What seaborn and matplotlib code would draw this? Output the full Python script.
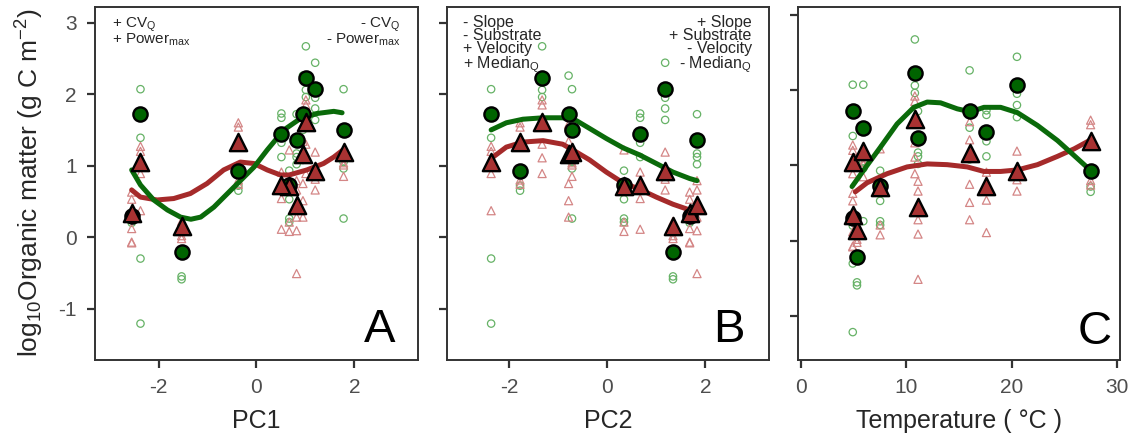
import numpy as np
import pandas as pd
import matplotlib
matplotlib.use("Agg")
import matplotlib.pyplot as plt
import seaborn as sns

sns.set_style("white")
plt.rcParams["font.family"] = ["Liberation Sans", "DejaVu Sans"]
plt.rcParams["mathtext.default"] = "regular"
plt.rcParams["axes.unicode_minus"] = False

# ---------------- data (one entry per site) ----------------
pc1 = [-2.37, 0.95, -0.37, 1.01, 1.78, 0.67, 0.51, 1.20, -1.53, -2.55, 0.82]
pc2 = [-2.37, -0.79, -1.78, -1.33, -0.72, 0.34, 0.67, 1.18, 1.34, 1.68, 1.83]
temperature = [4.9, 16.0, 27.5, 10.8, 5.9, 7.5, 17.6, 20.5, 5.3, 4.9, 11.1]
green_mean = [1.72, 1.72, 0.93, 2.22, 1.50, 0.73, 1.44, 2.07, -0.21, 0.30, 1.36]
red_mean = [1.05, 1.16, 1.33, 1.61, 1.19, 0.71, 0.73, 0.93, 0.15, 0.34, 0.45]

green_reps = [
    [2.07, 1.39, -0.30, -1.21],
    [2.26, 1.50, 1.08],
    [1.26, 0.72, 0.65],
    [2.67, 2.06, 1.96],
    [2.07, 1.05, 0.96, 0.26],
    [0.93, 0.53, 0.26, 0.21],
    [1.73, 1.67, 1.32, 1.12],
    [2.44, 1.95, 1.80, 1.64],
    [-0.55, -0.59],
    [0.26, 0.20],
    [1.72, 1.17, 1.12, 1.02],
]
red_reps = [
    [1.27, 1.20, 0.89, 0.37],
    [1.58, 1.34, 0.75, 0.51, 0.28],
    [1.60, 1.54, 0.80, 0.74],
    [1.92, 1.85, 1.30, 1.11, 0.89],
    [1.04, 1.01, 0.85],
    [1.22, 0.21, 0.08],
    [0.91, 0.54, 0.11],
    [1.19, 0.81, 0.66],
    [0.22, 0.08, 0.02, -0.02],
    [0.63, 0.53, 0.12, -0.07, -0.08],
    [0.79, 0.66, 0.28, 0.09, -0.51],
]

# smoothed curves
curveA_x_green = [-2.55, -2.37, -2.10, -1.82, -1.55, -1.34, -1.14, -0.87, -0.46, -0.05, 0.22, 0.56, 0.90, 1.24, 1.58, 1.75]
curveA_y_green = [0.94, 0.73, 0.52, 0.38, 0.28, 0.25, 0.28, 0.42, 0.70, 0.98, 1.22, 1.50, 1.66, 1.73, 1.76, 1.74]
curveA_x_red = [-2.55, -2.37, -2.03, -1.69, -1.35, -1.01, -0.67, -0.33, -0.05, 0.22, 0.49, 0.67, 1.03, 1.37, 1.58, 1.75]
curveA_y_red = [0.66, 0.56, 0.52, 0.54, 0.61, 0.75, 0.94, 1.05, 1.03, 0.94, 0.87, 0.87, 0.94, 1.03, 1.12, 1.21]

curveB_x = [-2.37, -2.06, -1.72, -1.31, -0.91, -0.63, -0.36, -0.02, 0.32, 0.66, 1.00, 1.34, 1.68, 1.83]
curveB_y_green = [1.50, 1.60, 1.65, 1.67, 1.67, 1.63, 1.52, 1.38, 1.25, 1.15, 1.03, 0.91, 0.82, 0.79]
curveB_y_red = [1.10, 1.26, 1.33, 1.35, 1.30, 1.19, 1.08, 0.91, 0.76, 0.67, 0.56, 0.46, 0.38, 0.35]

curveC_x_green = [4.83, 6.26, 7.52, 9.11, 10.70, 11.97, 13.24, 14.83, 16.10, 17.36, 18.95, 20.54, 22.45, 24.35, 25.94, 27.52]
curveC_y_green = [0.72, 1.00, 1.24, 1.55, 1.77, 1.84, 1.83, 1.75, 1.71, 1.77, 1.77, 1.70, 1.53, 1.33, 1.13, 0.93]
curveC_x_red = [5.14, 6.26, 8.16, 10.06, 11.97, 13.87, 15.78, 17.36, 18.95, 20.54, 22.45, 24.35, 25.94, 27.52]
curveC_y_red = [0.65, 0.77, 0.89, 0.98, 1.02, 1.01, 0.98, 0.92, 0.92, 0.94, 1.01, 1.12, 1.22, 1.34]

xtick_pc = [-2, 0, 2]
xtick_temp = [0, 10, 20, 30]
ytick_vals = [-1, 0, 1, 2, 3]

annot_A_left = ["+ CV$_Q$", "+ Power$_{max}$"]
annot_A_right = ["- CV$_Q$", "- Power$_{max}$"]
annot_B_left = ["- Slope", "- Substrate", "+ Velocity", "+ Median$_Q$"]
annot_B_right = ["+ Slope", "+ Substrate", "- Velocity", "- Median$_Q$"]

# ---------------- tables ----------------
means = pd.DataFrame({"PC1": pc1, "PC2": pc2, "Temp": temperature,
                      "green": green_mean, "red": red_mean})
rows_g, rows_r = [], []
for i in range(len(pc1)):
    for v in green_reps[i]:
        rows_g.append({"PC1": pc1[i], "PC2": pc2[i], "Temp": temperature[i], "value": v})
    for v in red_reps[i]:
        rows_r.append({"PC1": pc1[i], "PC2": pc2[i], "Temp": temperature[i], "value": v})
reps_g = pd.DataFrame(rows_g)
reps_r = pd.DataFrame(rows_r)

# ---------------- style ----------------
LIGHT_GREEN = "#66b266"
LIGHT_RED = "#d48686"
DARK_GREEN = "#006400"
RED_FILL = "#a83232"
GREEN_LINE = "#0a6a0a"
RED_LINE = "#a52a2a"
FRAME = "#333333"

fig = plt.figure(figsize=(11.36, 4.38), dpi=100)
rects = [[0.0836, 0.178, 0.2843, 0.806],
         [0.3935, 0.178, 0.2835, 0.806],
         [0.7025, 0.178, 0.2835, 0.806]]
axes = [fig.add_axes(r) for r in rects]

panels = [
    dict(x="PC1", xlim=(-3.3, 3.3), ylim=(-1.72, 3.22), xticks=xtick_pc,
         cg=(curveA_x_green, curveA_y_green), cr=(curveA_x_red, curveA_y_red),
         letter="A", lx=0.929, ly=0.052, xlabel="PC1"),
    dict(x="PC2", xlim=(-3.27, 3.3), ylim=(-1.72, 3.22), xticks=xtick_pc,
         cg=(curveB_x, curveB_y_green), cr=(curveB_x, curveB_y_red),
         letter="B", lx=0.925, ly=0.052, xlabel="PC2"),
    dict(x="Temp", xlim=(-0.3, 30.3), ylim=(-1.58, 3.1), xticks=xtick_temp,
         cg=(curveC_x_green, curveC_y_green), cr=(curveC_x_red, curveC_y_red),
         letter="C", lx=0.975, ly=0.045, xlabel="Temperature ( °C )"),
]

for k, (ax, p) in enumerate(zip(axes, panels)):
    sns.scatterplot(data=reps_g, x=p["x"], y="value", marker="o", s=28,
                    facecolor="none", edgecolor=LIGHT_GREEN, linewidth=0.9,
                    ax=ax, zorder=2, legend=False)
    sns.scatterplot(data=reps_r, x=p["x"], y="value", marker="^", s=34,
                    facecolor="none", edgecolor=LIGHT_RED, linewidth=0.9,
                    ax=ax, zorder=2, legend=False)
    sns.lineplot(x=p["cr"][0], y=p["cr"][1], color=RED_LINE, lw=3.6, ax=ax,
                 zorder=3, legend=False)
    sns.lineplot(x=p["cg"][0], y=p["cg"][1], color=GREEN_LINE, lw=3.6, ax=ax,
                 zorder=3, legend=False)
    sns.scatterplot(data=means, x=p["x"], y="green", marker="o", s=105,
                    facecolor=DARK_GREEN, edgecolor="black", linewidth=1.7,
                    ax=ax, zorder=4, legend=False)
    sns.scatterplot(data=means, x=p["x"], y="red", marker="^", s=155,
                    facecolor=RED_FILL, edgecolor="black", linewidth=1.7,
                    ax=ax, zorder=5, legend=False)

    ax.set_xlim(*p["xlim"])
    ax.set_ylim(*p["ylim"])
    ax.set_xticks(p["xticks"])
    ax.set_yticks(ytick_vals)
    ax.set_xlabel("")
    ax.set_ylabel("")
    for sp in ax.spines.values():
        sp.set_visible(True)
        sp.set_color(FRAME)
        sp.set_linewidth(1.4)
    ax.tick_params(axis="both", direction="out", length=6, width=1.6,
                   color=FRAME, labelsize=15, labelcolor="#4d4d4d", pad=7,
                   bottom=True, left=True)
    if k > 0:
        ax.tick_params(axis="y", labelleft=False)
    ax.text(p["lx"], p["ly"], p["letter"], transform=ax.transAxes,
            ha="right", va="baseline", fontsize=34, color="black")
    cx = rects[k][0] + rects[k][2] / 2
    fig.text(cx, 0.039, p["xlabel"], ha="center", va="center", fontsize=18)

# annotations (one multi-line text per corner)
a = axes[0]
a.text(0.052, 0.975, "\n".join(annot_A_left), transform=a.transAxes,
       ha="left", va="top", fontsize=11, linespacing=0.78)
a.text(0.946, 0.975, "\n".join(annot_A_right), transform=a.transAxes,
       ha="right", va="top", fontsize=11, linespacing=0.78, multialignment="right")

b = axes[1]
b.text(0.051, 0.978, "\n".join(annot_B_left), transform=b.transAxes,
       ha="left", va="top", fontsize=11.5, linespacing=0.86)
b.text(0.946, 0.978, "\n".join(annot_B_right), transform=b.transAxes,
       ha="right", va="top", fontsize=11.5, linespacing=0.86, multialignment="right")

fig.text(0.0264, 0.583, "log$_{10}$Organic matter (g C m$^{-2}$)", rotation=90,
         ha="center", va="center", fontsize=19)

fig.savefig("out.png", dpi=100)
